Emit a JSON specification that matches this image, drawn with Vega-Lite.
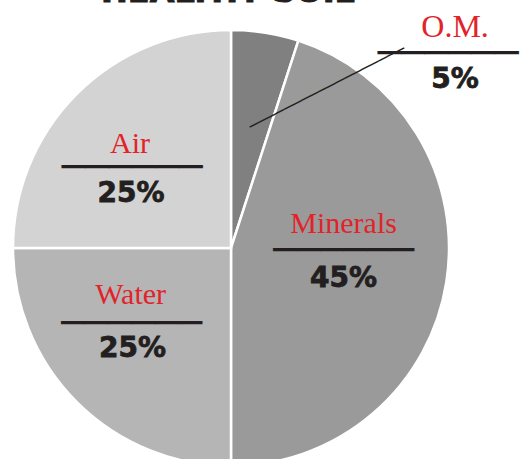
{
  "$schema": "https://vega.github.io/schema/vega-lite/v6.json",
  "width": 444,
  "height": 422,
  "autosize": {"type": "none"},
  "padding": {"left": 9, "top": 37, "right": 73, "bottom": 0},
  "background": "white",
  "data": {"values": [
    {"part": "O.M.", "value": 5, "rank": 1, "label": "5%"},
    {"part": "Minerals", "value": 45, "rank": 2, "label": "45%"},
    {"part": "Water", "value": 25, "rank": 3, "label": "25%"},
    {"part": "Air", "value": 25, "rank": 4, "label": "25%"}
  ]},
  "encoding": {
    "theta": {"field": "value", "type": "quantitative", "stack": true},
    "order": {"field": "rank", "type": "quantitative"}
  },
  "config": {"view": {"stroke": null}},
  "layer": [
    {"mark": {"type": "arc", "outerRadius": 218, "stroke": "white", "strokeWidth": 2.5},
     "encoding": {"color": {"field": "part", "type": "nominal", "legend": null,
       "scale": {"domain": ["O.M.", "Minerals", "Water", "Air"], "range": ["#808080", "#9a9a9a", "#b5b5b5", "#d3d3d3"]}}}},

    {"data": {"values": [{"t": "HEALTHY SOIL"}]},
     "mark": {"type": "text", "radius": 246, "font": "DejaVu Sans", "fontWeight": "bold", "fontSize": 32, "fill": "#231f20", "stroke": "#231f20", "strokeWidth": 1, "baseline": "alphabetic", "dx": -3},
     "encoding": {"theta": {"value": 0}, "order": {"value": null}, "text": {"field": "t"}}},

    {"mark": {"type": "text", "radius": 113, "dx": -21, "dy": -15, "font": "Liberation Serif", "fontSize": 30, "fill": "#e2232a", "baseline": "alphabetic"},
     "encoding": {"text": {"condition": {"test": "datum.part === 'Air'", "field": "part"}, "value": ""}}},
    {"mark": {"type": "text", "radius": 113, "dx": -19, "dy": 0, "font": "DejaVu Sans Mono", "fontSize": 39, "fill": "#231f20", "baseline": "middle"},
     "encoding": {"text": {"condition": {"test": "datum.part === 'Air'", "value": "──────"}, "value": ""}}},
    {"mark": {"type": "text", "radius": 113, "dx": -20, "dy": 34, "font": "DejaVu Sans", "fontWeight": "bold", "fontSize": 28, "fill": "#231f20", "stroke": "#231f20", "strokeWidth": 0.8, "baseline": "alphabetic"},
     "encoding": {"text": {"condition": {"test": "datum.part === 'Air'", "field": "label"}, "value": ""}}},

    {"mark": {"type": "text", "radius": 108, "dx": -24, "dy": -20, "font": "Liberation Serif", "fontSize": 30, "fill": "#e2232a", "baseline": "alphabetic"},
     "encoding": {"text": {"condition": {"test": "datum.part === 'Water'", "field": "part"}, "value": ""}}},
    {"mark": {"type": "text", "radius": 108, "dx": -23, "dy": 0, "font": "DejaVu Sans Mono", "fontSize": 39, "fill": "#231f20", "baseline": "middle"},
     "encoding": {"text": {"condition": {"test": "datum.part === 'Water'", "value": "──────"}, "value": ""}}},
    {"mark": {"type": "text", "radius": 108, "dx": -22, "dy": 33, "font": "DejaVu Sans", "fontWeight": "bold", "fontSize": 28, "fill": "#231f20", "stroke": "#231f20", "strokeWidth": 0.8, "baseline": "alphabetic"},
     "encoding": {"text": {"condition": {"test": "datum.part === 'Water'", "field": "label"}, "value": ""}}},

    {"mark": {"type": "text", "radius": 114, "dx": 0, "dy": -33, "font": "Liberation Serif", "fontSize": 30, "fill": "#e2232a", "baseline": "alphabetic"},
     "encoding": {"text": {"condition": {"test": "datum.part === 'Minerals'", "field": "part"}, "value": ""}}},
    {"mark": {"type": "text", "radius": 114, "dx": 0, "dy": -15, "font": "DejaVu Sans Mono", "fontSize": 39, "fill": "#231f20", "baseline": "middle"},
     "encoding": {"text": {"condition": {"test": "datum.part === 'Minerals'", "value": "──────"}, "value": ""}}},
    {"mark": {"type": "text", "radius": 114, "dx": 0, "dy": 21, "font": "DejaVu Sans", "fontWeight": "bold", "fontSize": 28, "fill": "#231f20", "stroke": "#231f20", "strokeWidth": 0.8, "baseline": "alphabetic"},
     "encoding": {"text": {"condition": {"test": "datum.part === 'Minerals'", "field": "label"}, "value": ""}}},

    {"mark": {"type": "text", "radius": 122, "dx": 205, "dy": -91, "font": "Liberation Serif", "fontSize": 32, "fill": "#e2232a", "baseline": "alphabetic"},
     "encoding": {"text": {"condition": {"test": "datum.part === 'O.M.'", "field": "part"}, "value": ""}}},
    {"mark": {"type": "text", "radius": 122, "dx": 198, "dy": -74, "font": "DejaVu Sans Mono", "fontSize": 39, "fill": "#231f20", "baseline": "middle"},
     "encoding": {"text": {"condition": {"test": "datum.part === 'O.M.'", "value": "──────"}, "value": ""}}},
    {"mark": {"type": "text", "radius": 122, "dx": 205, "dy": -40, "font": "DejaVu Sans", "fontWeight": "bold", "fontSize": 28, "fill": "#231f20", "stroke": "#231f20", "strokeWidth": 0.8, "baseline": "alphabetic"},
     "encoding": {"text": {"condition": {"test": "datum.part === 'O.M.'", "field": "label"}, "value": ""}}},
    {"mark": {"type": "text", "radius": 122, "align": "left", "angle": -27.15, "font": "DejaVu Sans Mono", "fontSize": 16, "fill": "#231f20", "baseline": "middle"},
     "encoding": {"text": {"condition": {"test": "datum.part === 'O.M.'", "value": "──────────────────"}, "value": ""}}}
  ]
}
